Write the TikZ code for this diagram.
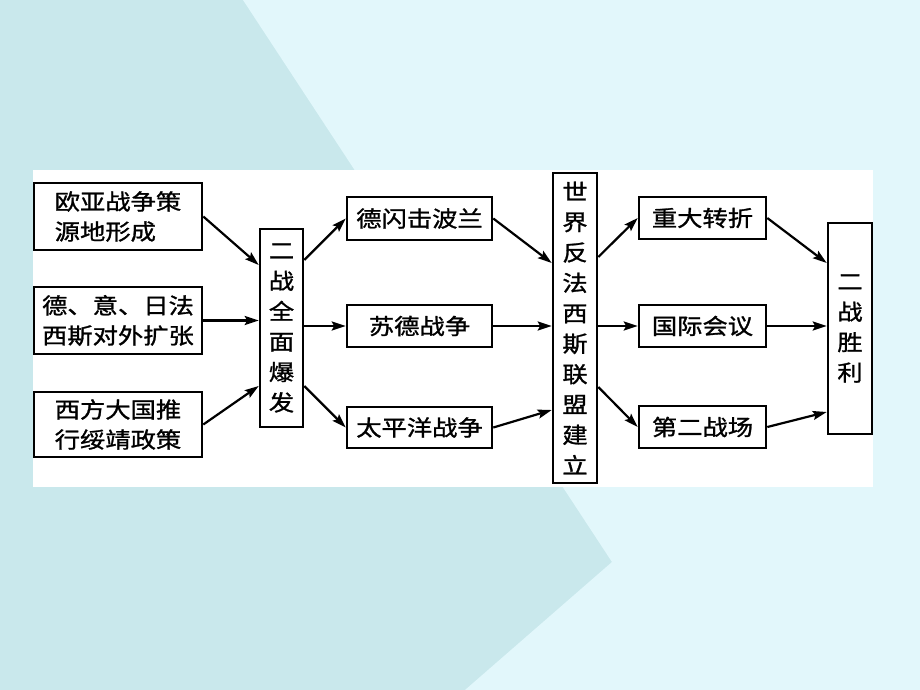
\documentclass[tikz,border=0pt]{standalone}
\usepackage{fontspec}
\newfontfamily\cjk[FakeStretch=1.15,FakeBold=1.2]{Noto Sans CJK SC}
\usetikzlibrary{arrows.meta}
\definecolor{bgdark}{HTML}{C9E8EC}
\definecolor{bglight}{HTML}{E2F7FB}
\begin{document}
\begin{tikzpicture}[x=1pt,y=-1pt,
  box/.style={draw=black,line width=2.6pt,fill=white,inner sep=0pt,
    font=\cjk\fontsize{22}{30}\selectfont},
  vbox/.style={box,align=center,font=\cjk\fontsize{22}{30.4}\selectfont},
  arr/.style={line width=2.2pt,-{Stealth[length=14pt,width=9pt,inset=2.5pt]}}]
\useasboundingbox (0,0) rectangle (920,690);
% background
\fill[bgdark] (0,0) rectangle (920,690);
\fill[bglight] (243,0) -- (920,0) -- (920,690) -- (465,690) -- (612,562) -- cycle;
\fill[white] (33,170) rectangle (873,487);
% left column
\node[box,align=left,minimum width=168pt,minimum height=67pt] (b1) at (118,216.5) {欧亚战争策\\源地形成};
\node[box,align=left,minimum width=168pt,minimum height=67pt] (b2) at (118,320.5) {德、意、日法\\西斯对外扩张};
\node[box,align=left,minimum width=168pt,minimum height=65pt] (b3) at (118,424.5) {西方大国推\\行绥靖政策};
% outbreak
\node[vbox,minimum width=43pt,minimum height=198pt] (z) at (281.5,328) {二\\战\\全\\面\\爆\\发};
% middle column
\node[box,minimum width=145pt,minimum height=43pt] (m1) at (419.5,218.5) {德闪击波兰};
\node[box,minimum width=145pt,minimum height=42pt] (m2) at (419.5,326) {苏德战争};
\node[box,minimum width=145pt,minimum height=41pt] (m3) at (419.5,427.5) {太平洋战争};
% alliance
\node[vbox,minimum width=44pt,minimum height=310pt] (s) at (575,328) {世\\界\\反\\法\\西\\斯\\联\\盟\\建\\立};
% right column
\node[box,minimum width=127pt,minimum height=42pt] (r1) at (702.5,218) {重大转折};
\node[box,minimum width=127pt,minimum height=42pt] (r2) at (702.5,326) {国际会议};
\node[box,minimum width=127pt,minimum height=42pt] (r3) at (702.5,427) {第二战场};
% victory
\node[vbox,minimum width=44pt,minimum height=211pt] (v) at (850,328.5) {二\\战\\胜\\利};
% arrows
\draw[arr] (b1.east) -- ([yshift=63pt]z.west);
\draw[arr] (b2.east) -- (b2.east -| z.west);
\draw[arr] (b3.east) -- ([yshift=-58pt]z.west);
\draw[arr] ([yshift=68pt]z.east) -- (m1.west);
\draw[arr] (z.east |- m2.west) -- (m2.west);
\draw[arr] ([yshift=-58pt]z.east) -- (m3.west);
\draw[arr] (m1.east) -- ([yshift=65pt]s.west);
\draw[arr] (m2.east) -- (m2.east -| s.west);
\draw[arr] (m3.east) -- ([yshift=-82pt]s.west);
\draw[arr] ([yshift=71pt]s.east) -- (r1.west);
\draw[arr] (s.east |- r2.west) -- (r2.west);
\draw[arr] ([yshift=-59pt]s.east) -- (r3.west);
\draw[arr] (r1.east) -- ([yshift=65.5pt]v.west);
\draw[arr] (r2.east) -- (r2.east -| v.west);
\draw[arr] (r3.east) -- ([yshift=-83.5pt]v.west);
\end{tikzpicture}
\end{document}
